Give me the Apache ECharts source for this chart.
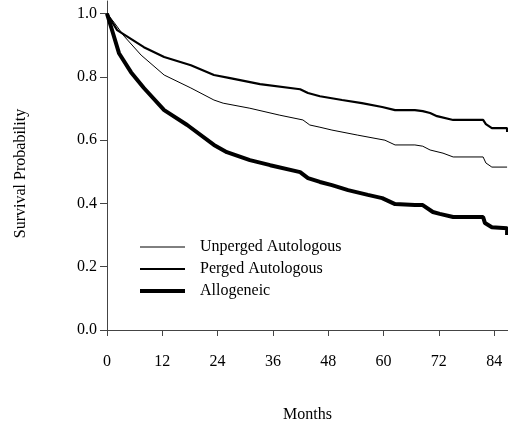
<!DOCTYPE html>
<html>
<head>
<meta charset="utf-8">
<script src="https://cdn.jsdelivr.net/npm/echarts@6/dist/echarts.min.js"></script>
<style>
  html, body { margin: 0; padding: 0; background: #fff; }
  #main { width: 508px; height: 426px; }
</style>
</head>
<body>
<div id="main"></div>
<script>
// survival curves, [month, probability]
let unpergedAuto = [
    [0, 1.0], [1.5, 0.973], [3.7, 0.929], [7.4, 0.869], [12.4, 0.806], [18.2, 0.765],
    [23.2, 0.727], [25.2, 0.717], [31.0, 0.701], [37.5, 0.679], [42.5, 0.664], [44.0, 0.648],
    [46.2, 0.641], [48.8, 0.632], [54.4, 0.616], [60.3, 0.600], [62.5, 0.585], [66.8, 0.585],
    [68.5, 0.581], [70.1, 0.569], [72.9, 0.559], [75.1, 0.547], [81.6, 0.547], [82.2, 0.528],
    [83.5, 0.515], [86.8, 0.515]
];
let pergedAuto = [
    [0, 1.0], [2.2, 0.948], [8.0, 0.894], [12.4, 0.863], [18.2, 0.837], [23.2, 0.806],
    [26.7, 0.796], [33.2, 0.777], [41.9, 0.761], [43.6, 0.749], [46.2, 0.739], [51.0, 0.727],
    [55.3, 0.717], [59.7, 0.705], [62.5, 0.695], [66.8, 0.695], [68.5, 0.692], [70.1, 0.686],
    [71.6, 0.676], [75.1, 0.664], [81.6, 0.664], [82.2, 0.651], [83.5, 0.638], [86.8, 0.638],
    [86.8, 0.626]
];
let allogeneic = [
    [0, 1.0], [1.3, 0.938], [2.6, 0.875], [5.2, 0.815], [8.0, 0.765], [12.4, 0.695],
    [17.4, 0.648], [23.2, 0.585], [26.0, 0.562], [31.0, 0.537], [35.4, 0.521], [41.9, 0.499],
    [43.6, 0.480], [46.2, 0.468], [48.8, 0.458], [52.3, 0.442], [56.6, 0.427], [59.7, 0.417],
    [62.5, 0.398], [66.8, 0.395], [68.5, 0.395], [70.7, 0.373], [72.2, 0.367], [75.1, 0.357],
    [81.6, 0.357], [82.0, 0.338], [83.5, 0.325], [86.8, 0.322], [86.8, 0.300]
];
let seriesNames = ['Unperged Autologous', 'Perged Autologous', 'Allogeneic'];
let xTicks = [0, 12, 24, 36, 48, 60, 72, 84];
let yTicks = [0, 0.2, 0.4, 0.6, 0.8, 1.0];

let font = '"Liberation Serif", "Times New Roman", serif';
let axisColor = '#444';

function curve(name, width, data) {
    return {
        name: name, type: 'line', showSymbol: false, symbol: 'none',
        lineStyle: { color: '#000', width: width },
        itemStyle: { color: '#000', opacity: 0 },
        data: data
    };
}

let mychart = echarts.init(document.getElementById('main'));
let option = {
    animation: false,
    textStyle: { fontFamily: font },
    grid: { left: 107, right: 0, top: 1, bottom: 96, outerBoundsMode: 'none', containLabel: false },
    legend: {
        orient: 'vertical',
        left: 133,
        top: 234,
        itemWidth: 45,
        itemHeight: 16,
        itemGap: 6,
        data: seriesNames,
        itemStyle: { opacity: 0 },
        lineStyle: { width: 'inherit' },
        textStyle: { fontFamily: font, fontSize: 16, color: '#000', padding: [0, 0, 0, 10] }
    },
    xAxis: {
        type: 'value',
        min: 0,
        max: 87,
        name: 'Months',
        nameLocation: 'middle',
        nameGap: 77,
        nameTextStyle: { fontFamily: font, fontSize: 16, color: '#000' },
        splitLine: { show: false },
        axisLine: { show: true, lineStyle: { color: axisColor, width: 1 } },
        axisTick: { show: true, length: 6, customValues: xTicks, lineStyle: { color: axisColor } },
        axisLabel: { customValues: xTicks, margin: 24, fontSize: 16, color: '#000', fontFamily: font }
    },
    yAxis: {
        type: 'value',
        min: 0,
        max: 1.04,
        name: 'Survival Probability',
        nameLocation: 'middle',
        nameGap: 78,
        nameTextStyle: { fontFamily: font, fontSize: 16, color: '#000', padding: [0, 16, 0, 0] },
        splitLine: { show: false },
        axisLine: { show: true, lineStyle: { color: axisColor, width: 1 } },
        axisTick: { show: true, length: 7, customValues: yTicks, lineStyle: { color: axisColor } },
        axisLabel: {
            customValues: yTicks, margin: 10, fontSize: 16, color: '#000', fontFamily: font,
            formatter: function(v) { return v.toFixed(1); }
        }
    },
    series: [
        curve(seriesNames[0], 1, unpergedAuto),
        curve(seriesNames[1], 2.2, pergedAuto),
        curve(seriesNames[2], 4, allogeneic)
    ]
};
mychart.setOption(option);
</script>
</body>
</html>
